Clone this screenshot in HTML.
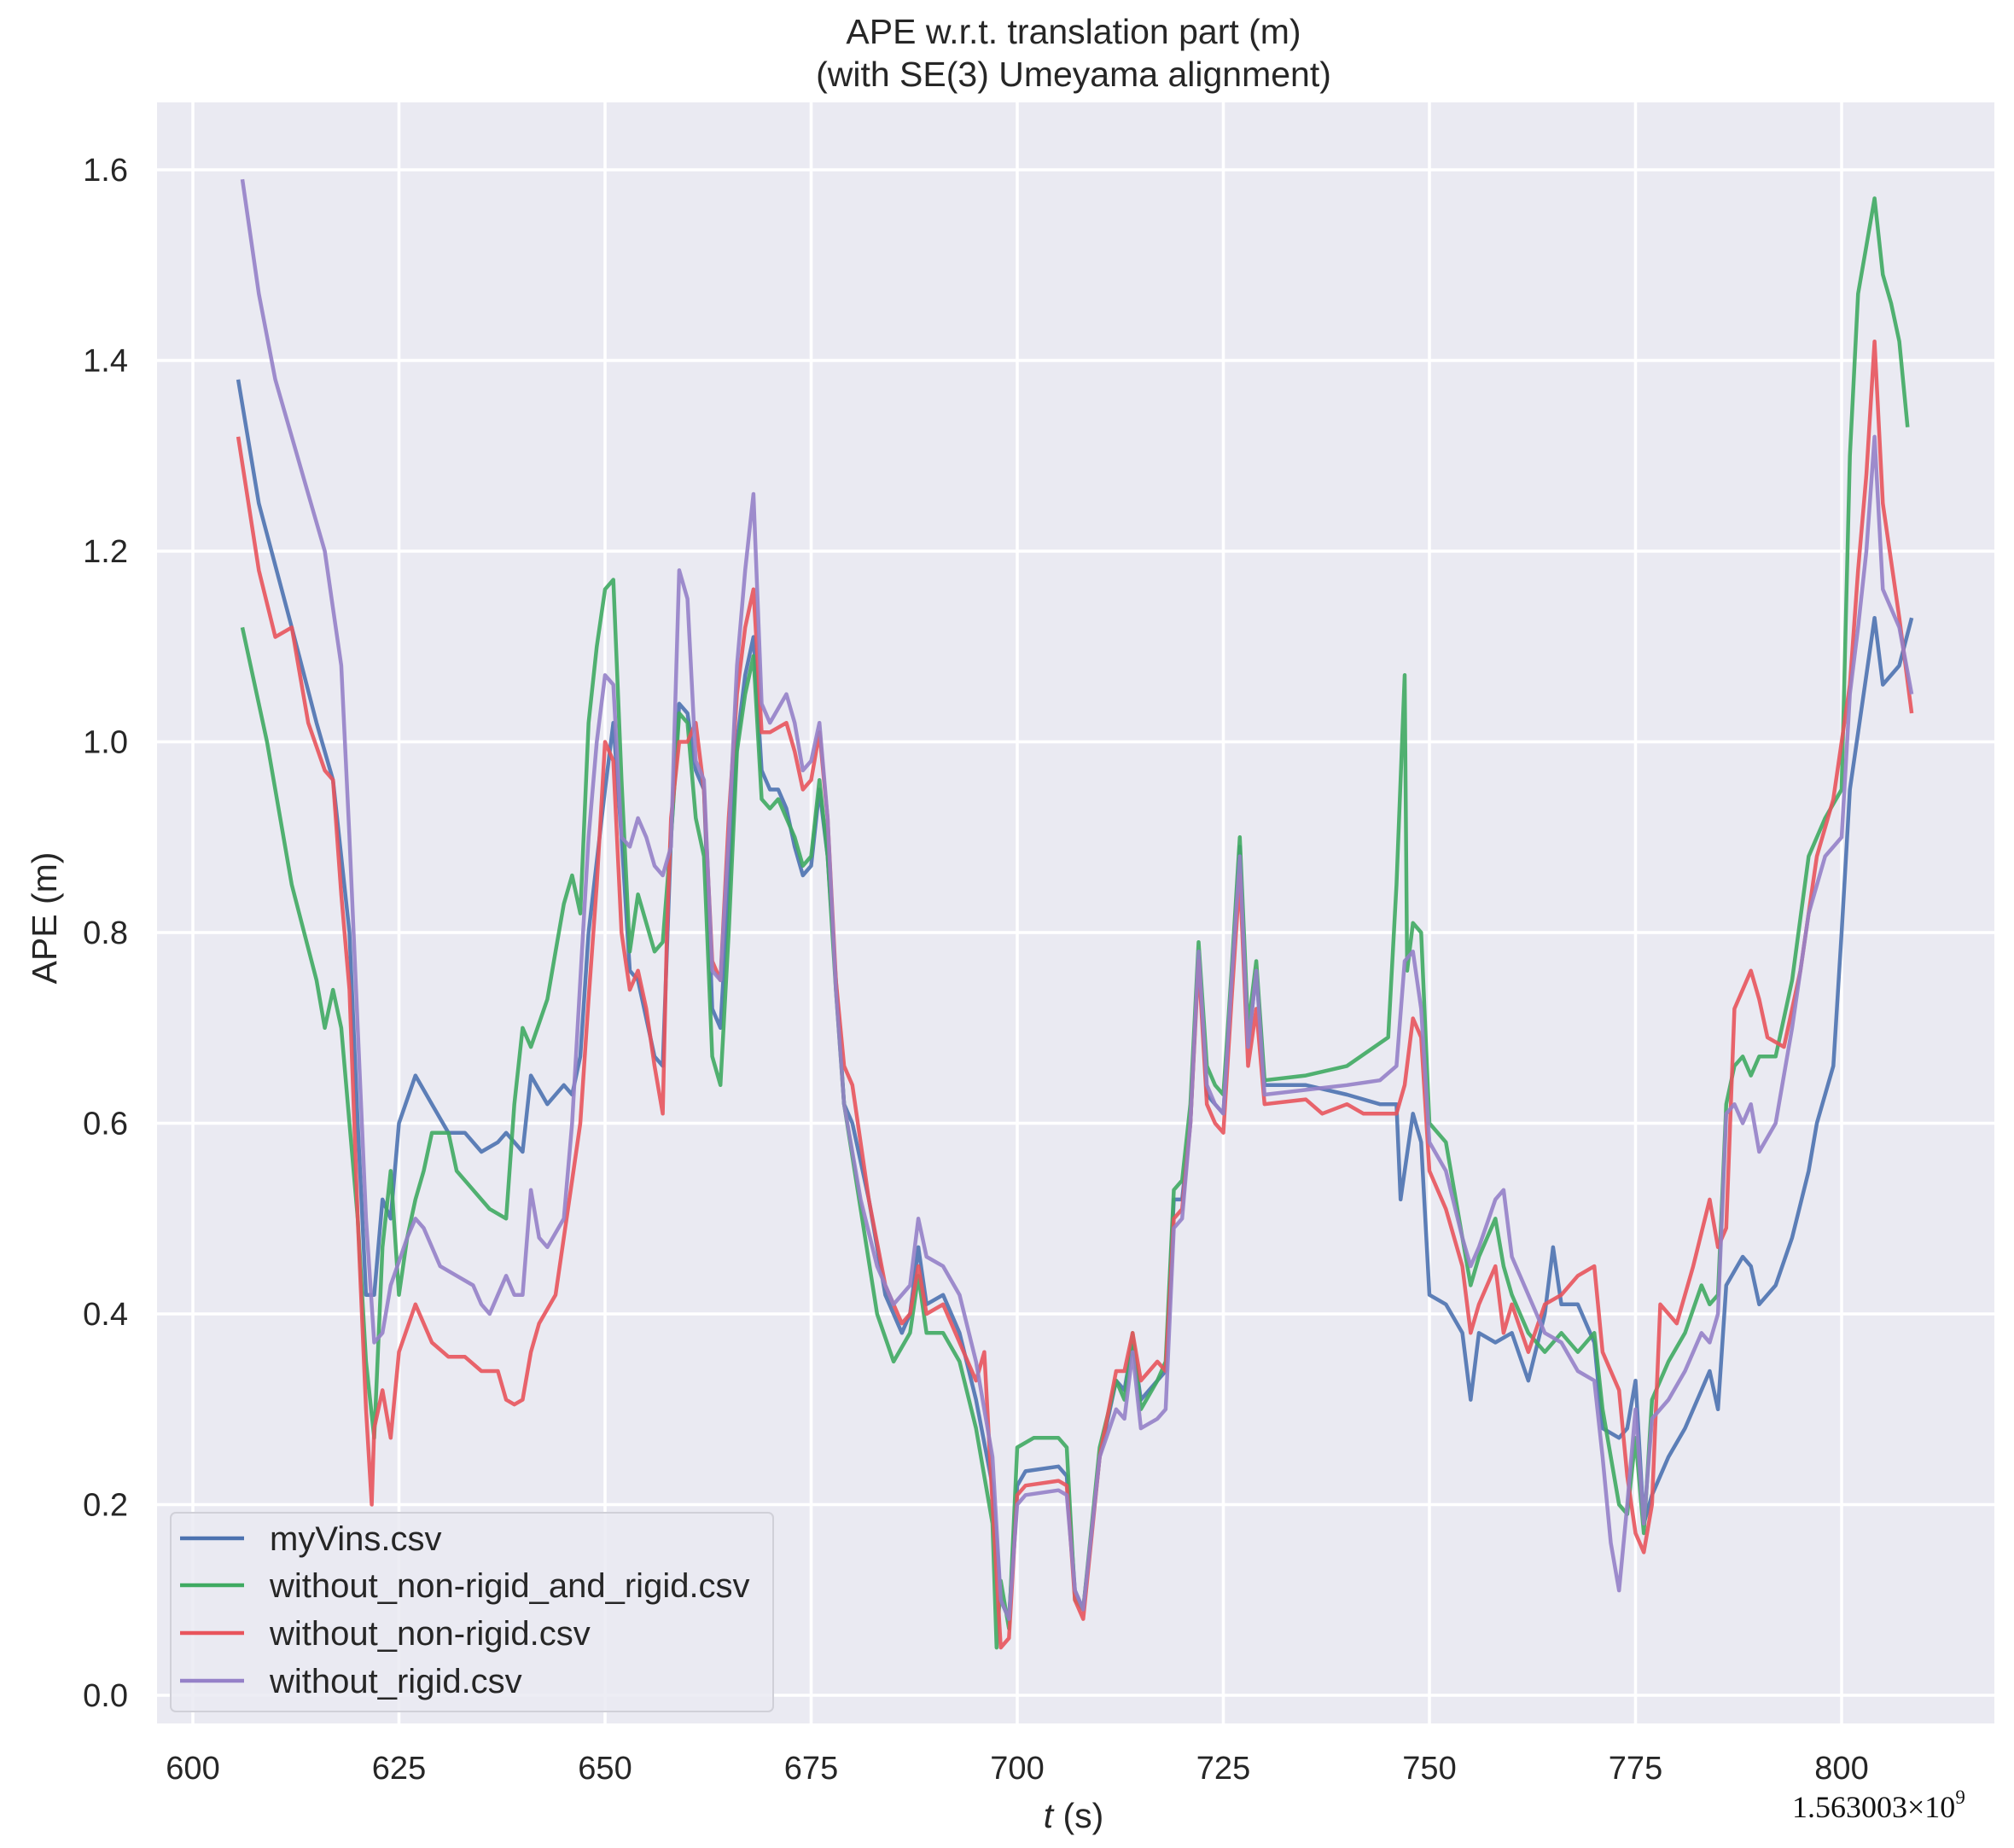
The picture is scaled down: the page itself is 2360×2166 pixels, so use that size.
<!DOCTYPE html>
<html><head><meta charset="utf-8"><style>
html,body{margin:0;padding:0;background:#fff;}
svg{display:block;font-family:"Liberation Sans","DejaVu Sans",sans-serif;}
</style></head><body>
<svg id="chart" width="2360" height="2166" viewBox="0 0 2360 2166" xmlns="http://www.w3.org/2000/svg">
<rect x="0" y="0" width="2360" height="2166" fill="#fff"/>
<text x="1258" y="51" font-size="41" text-anchor="middle" fill="#262626">APE w.r.t. translation part (m)</text>
<text x="1258" y="101" font-size="41" text-anchor="middle" fill="#262626">(with SE(3) Umeyama alignment)</text>
<rect x="184" y="120" width="2153" height="1900" fill="#eaeaf2"/>
<g id="grid"></g>
<g id="series"></g>
<g id="ticks"></g>
<text x="1258" y="2142" font-size="41" text-anchor="middle" fill="#262626"><tspan font-style="italic">t</tspan> (s)</text>
<text x="0" y="0" font-size="41" text-anchor="middle" fill="#262626" transform="translate(66,1076) rotate(-90)">APE (m)</text>
<text x="2100" y="2130" font-size="36" fill="#111" font-family="'Liberation Serif',serif">1.563003×10<tspan dy="-16" font-size="23">9</tspan></text>
<g id="legend"></g>
</svg>
<script>
const xTicks=[600,625,650,675,700,725,750,775,800];
const yTicks=[0.0,0.2,0.4,0.6,0.8,1.0,1.2,1.4,1.6];
const seriesNames=["myVins.csv","without_non-rigid_and_rigid.csv","without_non-rigid.csv","without_rigid.csv"];
const seriesColors=["#4c72b0","#3faa62","#e8545c","#9581c8"];
const blueData=[[605.5,1.38],[608,1.25],[612,1.12],[615,1.02],[617,0.96],[619,0.8],[620,0.6],[621,0.42],[622,0.42],[623,0.52],[624,0.5],[625,0.6],[627,0.65],[629,0.62],[631,0.59],[633,0.59],[635,0.57],[637,0.58],[638,0.59],[640,0.57],[641,0.65],[643,0.62],[645,0.64],[646,0.63],[647,0.67],[648,0.8],[650,0.95],[651,1.02],[652,0.9],[653,0.76],[654,0.75],[656,0.67],[657,0.66],[658,0.9],[659,1.04],[660,1.03],[661,0.97],[662,0.95],[663,0.72],[664,0.70],[665,0.85],[666,1.0],[667,1.07],[668,1.11],[669,0.97],[670,0.95],[671,0.95],[672,0.93],[673,0.89],[674,0.86],[675,0.87],[676,0.95],[677,0.88],[678,0.75],[679,0.62],[680,0.60],[682,0.52],[684,0.42],[686,0.38],[687,0.4],[688,0.47],[689,0.41],[691,0.42],[693,0.38],[695,0.31],[697,0.22],[698,0.1],[699,0.08],[700,0.22],[701,0.235],[705,0.24],[706,0.23],[707,0.11],[708,0.09],[710,0.25],[712,0.33],[713,0.32],[714,0.37],[715,0.31],[717,0.33],[718,0.34],[719,0.52],[720,0.52],[721,0.6],[722,0.78],[723,0.63],[724,0.62],[725,0.61],[726,0.75],[727,0.89],[728,0.68],[729,0.76],[730,0.64],[735,0.64],[740,0.63],[744,0.62],[746,0.62],[746.5,0.52],[747,0.55],[748,0.61],[749,0.58],[750,0.42],[752,0.41],[754,0.38],[755,0.31],[756,0.38],[758,0.37],[760,0.38],[762,0.33],[764,0.4],[765,0.47],[766,0.41],[768,0.41],[770,0.37],[771,0.28],[773,0.27],[774,0.28],[775,0.33],[776,0.18],[777,0.21],[779,0.25],[781,0.28],[783,0.32],[784,0.34],[785,0.3],[786,0.43],[788,0.46],[789,0.45],[790,0.41],[792,0.43],[794,0.48],[796,0.55],[797,0.6],[799,0.66],[800,0.8],[801,0.95],[803,1.07],[804,1.13],[805,1.06],[807,1.08],[808.5,1.13]];
const greenData=[[606,1.12],[609,1.0],[612,0.85],[615,0.75],[616,0.70],[617,0.74],[618,0.70],[619,0.6],[620,0.5],[621,0.35],[622,0.27],[623,0.47],[624,0.55],[625,0.42],[626,0.48],[627,0.52],[628,0.55],[629,0.59],[631,0.59],[632,0.55],[634,0.53],[636,0.51],[638,0.5],[639,0.62],[640,0.70],[641,0.68],[643,0.73],[644,0.78],[645,0.83],[646,0.86],[647,0.82],[648,1.02],[649,1.10],[650,1.16],[651,1.17],[652,0.96],[653,0.78],[654,0.84],[655,0.81],[656,0.78],[657,0.79],[658,0.90],[659,1.03],[660,1.02],[661,0.92],[662,0.88],[663,0.67],[664,0.64],[665,0.8],[666,0.99],[667,1.05],[668,1.09],[669,0.94],[670,0.93],[671,0.94],[673,0.9],[674,0.87],[675,0.88],[676,0.96],[677,0.88],[678,0.74],[679,0.62],[681,0.51],[683,0.4],[685,0.35],[687,0.38],[688,0.44],[689,0.38],[691,0.38],[693,0.35],[695,0.28],[697,0.18],[697.5,0.05],[698,0.12],[699,0.07],[700,0.26],[702,0.27],[705,0.27],[706,0.26],[707,0.1],[708,0.09],[710,0.26],[712,0.33],[713,0.31],[714,0.38],[715,0.3],[717,0.33],[718,0.35],[719,0.53],[720,0.54],[721,0.62],[722,0.79],[723,0.66],[724,0.64],[725,0.63],[726,0.76],[727,0.9],[728,0.7],[729,0.77],[730,0.645],[735,0.65],[740,0.66],[745,0.69],[746,0.85],[747,1.07],[747.3,0.76],[748,0.81],[749,0.80],[750,0.6],[752,0.58],[754,0.48],[755,0.43],[756,0.46],[758,0.5],[759,0.45],[760,0.42],[762,0.38],[764,0.36],[766,0.38],[768,0.36],[770,0.38],[771,0.3],[773,0.2],[774,0.19],[775,0.27],[776,0.17],[777,0.31],[779,0.35],[781,0.38],[783,0.43],[784,0.41],[785,0.42],[786,0.62],[787,0.66],[788,0.67],[789,0.65],[790,0.67],[792,0.67],[794,0.75],[796,0.88],[798,0.92],[800,0.95],[801,1.3],[802,1.47],[803,1.52],[804,1.57],[805,1.49],[806,1.46],[807,1.42],[808,1.33]];
const redData=[[605.5,1.32],[608,1.18],[610,1.11],[612,1.12],[614,1.02],[616,0.97],[617,0.96],[618,0.84],[619,0.74],[620,0.5],[621,0.3],[621.7,0.2],[622,0.28],[623,0.32],[624,0.27],[625,0.36],[627,0.41],[629,0.37],[631,0.355],[633,0.355],[635,0.34],[637,0.34],[638,0.31],[639,0.305],[640,0.31],[641,0.36],[642,0.39],[644,0.42],[645,0.48],[646,0.54],[647,0.6],[648,0.73],[649,0.85],[650,1.0],[651,0.98],[652,0.8],[653,0.74],[654,0.76],[655,0.72],[656,0.66],[657,0.61],[657.5,0.8],[658,0.92],[659,1.0],[660,1.0],[661,1.02],[662,0.95],[663,0.77],[664,0.75],[665,0.92],[666,1.05],[667,1.12],[668,1.16],[669,1.01],[670,1.01],[672,1.02],[673,0.99],[674,0.95],[675,0.96],[676,1.01],[677,0.92],[678,0.75],[679,0.66],[680,0.64],[682,0.52],[684,0.43],[686,0.39],[687,0.4],[688,0.45],[689,0.4],[691,0.41],[693,0.37],[695,0.33],[696,0.36],[697,0.2],[698,0.05],[699,0.06],[700,0.21],[701,0.22],[705,0.225],[706,0.22],[707,0.1],[708,0.08],[710,0.25],[712,0.34],[713,0.34],[714,0.38],[715,0.33],[717,0.35],[718,0.34],[719,0.5],[720,0.51],[721,0.6],[722,0.77],[723,0.62],[724,0.6],[725,0.59],[726,0.73],[727,0.86],[728,0.66],[729,0.72],[730,0.62],[735,0.625],[737,0.61],[740,0.62],[742,0.61],[746,0.61],[747,0.64],[748,0.71],[749,0.69],[750,0.55],[752,0.51],[754,0.45],[755,0.38],[756,0.41],[758,0.45],[759,0.38],[760,0.41],[762,0.36],[764,0.41],[766,0.42],[768,0.44],[770,0.45],[771,0.36],[773,0.32],[774,0.23],[775,0.17],[776,0.15],[777,0.2],[778,0.41],[780,0.39],[782,0.45],[784,0.52],[785,0.47],[786,0.49],[787,0.72],[789,0.76],[790,0.73],[791,0.69],[793,0.68],[795,0.76],[797,0.88],[799,0.94],[801,1.06],[802,1.18],[803,1.28],[804,1.42],[805,1.25],[807,1.13],[808.5,1.03]];
const purpleData=[[606,1.59],[608,1.47],[610,1.38],[612,1.32],[614,1.26],[616,1.2],[617,1.14],[618,1.08],[619,0.9],[620,0.7],[621,0.5],[622,0.37],[623,0.38],[624,0.43],[626,0.48],[627,0.5],[628,0.49],[630,0.45],[632,0.44],[634,0.43],[635,0.41],[636,0.4],[637,0.42],[638,0.44],[639,0.42],[640,0.42],[641,0.53],[642,0.48],[643,0.47],[645,0.5],[646,0.6],[647,0.75],[648,0.9],[649,1.0],[650,1.07],[651,1.06],[652,0.9],[653,0.89],[654,0.92],[655,0.9],[656,0.87],[657,0.86],[658,0.89],[659,1.18],[660,1.15],[661,0.98],[662,0.96],[663,0.76],[664,0.75],[665,0.9],[666,1.08],[667,1.18],[668,1.26],[669,1.04],[670,1.02],[672,1.05],[673,1.02],[674,0.97],[675,0.98],[676,1.02],[677,0.92],[678,0.74],[679,0.62],[681,0.52],[683,0.45],[685,0.41],[687,0.43],[688,0.5],[689,0.46],[691,0.45],[693,0.42],[695,0.35],[697,0.25],[698,0.1],[699,0.08],[700,0.2],[701,0.21],[705,0.215],[706,0.21],[707,0.11],[708,0.09],[710,0.25],[712,0.30],[713,0.29],[714,0.36],[715,0.28],[717,0.29],[718,0.3],[719,0.49],[720,0.5],[721,0.6],[722,0.78],[723,0.64],[724,0.62],[725,0.61],[726,0.75],[727,0.88],[728,0.68],[729,0.76],[730,0.63],[735,0.635],[740,0.64],[744,0.645],[746,0.66],[747,0.77],[748,0.78],[749,0.72],[750,0.58],[752,0.55],[754,0.48],[755,0.45],[756,0.47],[758,0.52],[759,0.53],[760,0.46],[762,0.42],[764,0.38],[766,0.37],[768,0.34],[770,0.33],[771,0.25],[772,0.16],[773,0.11],[774,0.2],[775,0.3],[776,0.18],[777,0.29],[779,0.31],[781,0.34],[783,0.38],[784,0.37],[785,0.4],[786,0.61],[787,0.62],[788,0.6],[789,0.62],[790,0.57],[792,0.6],[794,0.7],[796,0.82],[798,0.88],[800,0.9],[801,1.05],[802,1.12],[803,1.2],[804,1.32],[805,1.16],[807,1.12],[808.5,1.05]];
const allSeries=[blueData,greenData,redData,purpleData];

const NS="http://www.w3.org/2000/svg";
const PL=184,PR=2337,PT=120,PB=2020;
function xs(t){return 226+(t-600)*(2158-226)/200;}
function ys(v){return 1987-v*(1987-199)/1.6;}
function mk(tag,attrs,parent){const e=document.createElementNS(NS,tag);for(const k in attrs)e.setAttribute(k,attrs[k]);parent.appendChild(e);return e;}

const grid=document.getElementById('grid');
const ticks=document.getElementById('ticks');
xTicks.forEach(t=>{
  const l=mk('line',{x1:xs(t),x2:xs(t),y1:PT,y2:PB,stroke:'#fff','stroke-width':3.5},grid);
  
  
  const tx=mk('text',{x:xs(t),y:2085,'font-size':38,'text-anchor':'middle',fill:'#262626'},ticks);
  tx.textContent=String(t);
  
  
});
yTicks.forEach(v=>{
  const l=mk('line',{x1:PL,x2:PR,y1:ys(v),y2:ys(v),stroke:'#fff','stroke-width':3.5},grid);
  
  
  const tx=mk('text',{x:150,y:ys(v)+13,'font-size':38,'text-anchor':'end',fill:'#262626'},ticks);
  tx.textContent=v.toFixed(1);
  
  
});

const sg=document.getElementById('series');
allSeries.forEach((d,i)=>{
  const p=mk('polyline',{points:d.map(q=>xs(q[0]).toFixed(1)+','+ys(q[1]).toFixed(1)).join(' '),fill:'none',stroke:seriesColors[i],'stroke-width':4.5,'stroke-linejoin':'round','stroke-opacity':0.9},sg);
  
  
});

const lg=document.getElementById('legend');
const box=mk('rect',{x:200,y:1773,width:706,height:233,rx:6,fill:'#eaeaf2','fill-opacity':0.85,stroke:'#d0d0d8','stroke-width':2},lg);


const ly=[1803,1858,1914,1970];
seriesNames.forEach((n,i)=>{
  const l=mk('line',{x1:211,x2:286,y1:ly[i],y2:ly[i],stroke:seriesColors[i],'stroke-width':4.5},lg);
  
  
  const t=mk('text',{x:316,y:ly[i]+14,'font-size':40,fill:'#262626'},lg);
  t.textContent=n;
  
  
});
</script>
</body></html>
